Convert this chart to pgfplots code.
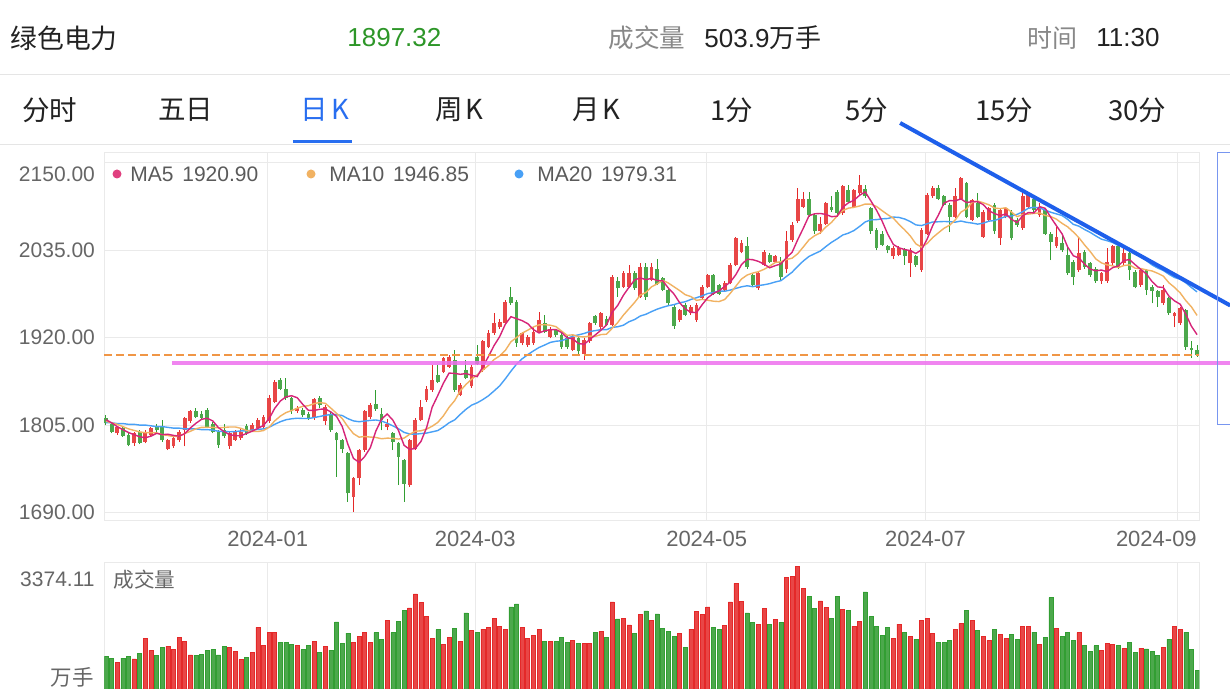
\documentclass[border=0pt]{standalone}
\usepackage{pgfplots}
\pgfplotsset{compat=1.18}
\usepackage{pgfplotstable}
\usepackage{fontspec}
\setmainfont{Liberation Sans}
\newfontfamily\cjk{Noto Sans CJK SC}
\definecolor{gridc}{RGB}{234,234,234}
\definecolor{labc}{RGB}{102,102,102}
\definecolor{legc}{RGB}{90,90,90}
\definecolor{upc}{RGB}{228,40,40}
\definecolor{dnc}{RGB}{50,158,50}
\definecolor{upf}{RGB}{232,70,70}
\definecolor{dnf}{RGB}{76,168,76}
\definecolor{ma5}{RGB}{214,36,120}
\definecolor{ma5d}{RGB}{224,64,127}
\definecolor{ma10}{RGB}{241,178,98}
\definecolor{ma20}{RGB}{72,160,246}
\definecolor{trend}{RGB}{30,95,235}
\definecolor{pinkl}{RGB}{238,112,238}
\definecolor{dashc}{RGB}{240,150,70}
\definecolor{hgreen}{RGB}{45,150,40}
\definecolor{tabblue}{RGB}{40,110,240}
\definecolor{txt}{RGB}{34,34,34}
\definecolor{hgray}{RGB}{136,136,136}
\definecolor{sepc}{RGB}{229,229,229}
\definecolor{brk}{RGB}{120,150,240}
\newcommand{\fs}[1]{\fontsize{#1}{#1}\selectfont}

\pgfplotstableread{
i O H L C V
2 1794 1804 1792 1802 740
5 1781 1796 1778 1794 832
7 1783 1798 1781 1796 1396
8 1792 1803 1790 1801 1063
11 1774 1787 1772 1785 1174
12 1777 1790 1775 1788 1082
13 1785 1798 1783 1796 1414
14 1799 1815 1777 1814 1322
15 1810 1825 1808 1823 943
22 1777 1796 1774 1794 1156
23 1786 1799 1784 1796 1035
24 1788 1800 1786 1796 813
26 1798 1808 1796 1805 1017
27 1801 1814 1799 1812 1701
28 1803 1818 1801 1816 1202
29 1810 1845 1808 1840 1553
30 1836 1864 1834 1862 1553
34 1823 1830 1821 1827 1202
37 1814 1841 1812 1839 1313
39 1810 1831 1805 1829 1174
44 1711 1737 1691 1735 1294
45 1735 1774 1726 1772 1461
46 1772 1825 1770 1823 1571
47 1816 1834 1813 1831 1294
50 1803 1813 1798 1806 1886
54 1726 1787 1724 1785 2237
55 1774 1814 1772 1812 2625
56 1812 1838 1810 1829 2385
57 1838 1856 1836 1853 2006
58 1851 1884 1849 1864 1396
60 1875 1895 1873 1893 1229
61 1882 1897 1880 1895 1414
63 1845 1860 1843 1858 1313
65 1856 1884 1854 1882 1627
67 1877 1917 1875 1915 1655
68 1908 1930 1906 1926 1692
69 1926 1952 1924 1939 1941
70 1934 1944 1932 1941 1719
71 1939 1970 1937 1967 1655
74 1913 1928 1910 1926 1692
75 1910 1923 1908 1921 1387
76 1913 1934 1911 1928 1488
77 1928 1954 1926 1943 1645
79 1921 1934 1919 1932 1322
83 1904 1923 1902 1921 1340
85 1899 1919 1891 1917 1248
86 1915 1941 1913 1939 1257
88 1934 1954 1932 1952 1581
90 1937 2002 1935 2000 2403
92 1987 2008 1985 2005 1941
93 1987 2016 1985 2005 1766
95 1974 2018 1972 2013 2052
97 1996 2018 1994 2013 1886
102 1943 1958 1941 1956 1535
104 1952 1963 1950 1961 1655
105 1943 1965 1941 1963 2135
106 1972 1989 1970 1987 2052
107 1987 2004 1985 2002 2265
110 1983 1994 1981 1992 1747
111 1992 2018 1990 2016 2403
112 2016 2053 2014 2051 2912
113 2033 2049 2031 2044 2413
116 1985 2007 1983 2005 1775
117 2016 2035 2014 2033 2219
119 2020 2029 2018 2027 1914
121 2010 2060 2005 2047 3069
122 2049 2072 2046 2068 3115
123 2073 2117 2071 2103 3374
124 2092 2112 2090 2103 2782
127 2060 2079 2057 2070 2431
128 2070 2099 2068 2097 2246
131 2084 2121 2082 2119 2200
133 2092 2116 2090 2114 1738
134 2110 2134 2108 2121 1867
140 2027 2040 2024 2038 1396
141 2029 2040 2027 2038 1793
143 2018 2038 2000 2035 1451
145 2009 2064 2007 2062 1886
146 2057 2110 2055 2108 1941
147 2106 2119 2104 2117 1544
151 2079 2117 2077 2106 1645
152 2103 2132 2101 2130 1803
154 2075 2103 2073 2101 1895
156 2053 2088 2051 2086 1442
157 2075 2092 2073 2090 1340
159 2051 2090 2042 2088 1498
160 2079 2092 2077 2090 1387
163 2064 2110 2062 2106 1729
164 2092 2112 2090 2108 1729
166 2081 2097 2079 2092 1239
169 2040 2066 2038 2053 1673
173 2009 2051 2007 2031 1553
177 1994 2007 1991 2005 1063
178 1994 2038 1992 2020 1266
179 2018 2042 2016 2040 1220
181 2018 2038 2016 2031 1119
184 1989 2011 1987 2009 1128
188 1965 1989 1963 1983 1146
190 1948 1954 1934 1952 1738
191 1939 1961 1937 1959 1655
}\up

\pgfplotstableread{
i O H L C V
0 1814 1818 1805 1808 897
1 1807 1809 1794 1796 850
3 1801 1803 1789 1791 850
4 1792 1794 1777 1779 906
6 1796 1798 1780 1782 989
9 1803 1806 1796 1798 934
10 1803 1812 1783 1785 1156
16 1823 1827 1814 1816 934
17 1820 1823 1812 1814 952
18 1825 1827 1801 1803 1054
19 1807 1809 1794 1796 1082
20 1796 1798 1775 1779 943
21 1798 1807 1788 1790 1174
25 1804 1807 1792 1794 869
31 1864 1867 1851 1853 1276
32 1853 1867 1838 1840 1294
33 1840 1842 1820 1823 1239
35 1825 1827 1816 1818 1082
36 1820 1822 1812 1814 1202
38 1840 1843 1828 1831 1017
40 1820 1823 1796 1798 1072
41 1794 1796 1737 1785 1849
42 1785 1787 1768 1773 1266
43 1768 1770 1704 1715 1544
48 1833 1851 1824 1826 1553
49 1820 1827 1798 1812 1368
51 1794 1796 1772 1783 1553
52 1781 1783 1726 1763 1867
53 1759 1761 1704 1728 2172
59 1871 1884 1860 1862 1636
62 1891 1904 1849 1851 1664
64 1877 1891 1865 1867 2098
66 1895 1910 1884 1886 1562
72 1974 1987 1963 1965 2265
73 1967 1969 1908 1913 2348
78 1939 1950 1926 1928 1322
80 1930 1932 1921 1923 1313
81 1924 1927 1905 1908 1433
82 1919 1922 1905 1908 1285
84 1919 1921 1899 1902 1248
87 1948 1950 1937 1939 1553
89 1945 1948 1935 1937 1414
91 1994 2000 1974 1985 1932
94 2005 2008 1983 1985 1544
96 2013 2018 1970 1974 2154
98 2011 2024 1989 1991 2071
99 1998 2000 1981 1983 1664
100 1983 1985 1963 1965 1590
101 1961 1963 1932 1935 1461
103 1963 1965 1948 1950 1137
108 2002 2004 1976 1978 1701
109 1989 1991 1976 1978 1655
114 2040 2053 2011 2013 2098
115 2002 2004 1987 1989 1840
118 2029 2031 2018 2020 1784
120 2020 2026 1996 2000 1840
125 2103 2112 2079 2081 2551
126 2081 2083 2057 2060 2219
129 2092 2106 2086 2088 1941
130 2112 2114 2082 2084 2561
132 2114 2121 2097 2099 2163
135 2116 2121 2104 2106 2681
136 2090 2092 2057 2060 1997
137 2062 2064 2035 2038 1729
138 2057 2060 2040 2042 1470
139 2040 2042 2031 2035 1710
142 2035 2038 2016 2027 1553
144 2027 2029 2013 2016 1377
148 2117 2121 2101 2103 1285
149 2106 2108 2093 2095 1276
150 2095 2097 2059 2079 1350
153 2123 2125 2077 2079 2163
155 2097 2110 2077 2079 1627
158 2095 2097 2057 2060 1636
161 2086 2088 2048 2051 1498
162 2075 2077 2066 2068 1377
165 2103 2106 2086 2088 1571
167 2088 2090 2055 2057 1424
168 2057 2059 2022 2046 2524
170 2044 2057 2033 2035 1461
171 2029 2040 2003 2005 1571
172 2020 2022 1989 2000 1350
174 2033 2035 2011 2013 1202
175 2018 2020 2000 2002 1035
176 2011 2013 1992 1994 1192
180 2040 2042 2011 2013 1211
182 2031 2033 1996 2009 1294
183 2007 2009 1985 1987 1017
185 2009 2011 1976 1983 1109
186 1987 1989 1965 1981 1035
187 1981 1983 1961 1974 924
189 1972 1974 1950 1952 1368
192 1956 1958 1904 1908 1571
193 1906 1915 1893 1904 1100
194 1904 1910 1895 1897.32 504
}\down

\pgfplotstableread{
i m5 m10 m20
0 1812 1810 1808
1 1808 1808 1808
2 1803 1806 1807
3 1799 1803 1807
4 1795.2 1800 1806
5 1792.4 1798 1806
6 1789.6 1796 1805
7 1788.4 1795 1805
8 1790.4 1795 1804
9 1794.2 1794.7 1803
10 1792.4 1792.4 1803
11 1793.0 1791.3 1802
12 1791.4 1789.9 1801
13 1790.4 1790.4 1801
14 1793.6 1793.9 1800
15 1801.2 1796.8 1800
16 1807.4 1800.2 1800
17 1812.6 1802.0 1799
18 1814.0 1802.2 1799
19 1810.4 1802.0 1798.4
20 1801.6 1801.4 1796.9
21 1796.4 1801.9 1796.6
22 1792.4 1802.5 1796.2
23 1791.0 1802.5 1796.5
24 1791.0 1800.7 1797.3
25 1794.0 1797.8 1797.3
26 1797.0 1796.7 1798.5
27 1800.6 1796.5 1799.3
28 1804.6 1797.8 1800.0
29 1813.4 1802.2 1802.1
30 1827.0 1810.5 1806.0
31 1836.6 1816.8 1809.4
32 1842.2 1821.4 1812.0
33 1843.6 1824.1 1813.3
34 1841.0 1827.2 1814.0
35 1832.2 1829.6 1813.7
36 1824.4 1830.5 1813.6
37 1824.2 1833.2 1814.9
38 1825.8 1834.7 1816.3
39 1826.2 1833.6 1817.9
40 1822.2 1827.2 1818.9
41 1816.4 1820.4 1818.6
42 1803.2 1813.7 1817.6
43 1780.0 1802.9 1813.5
44 1761.2 1793.7 1810.5
45 1756.0 1789.1 1809.4
46 1763.6 1790.0 1810.3
47 1775.2 1789.2 1811.2
48 1797.4 1788.7 1811.7
49 1812.8 1787.0 1810.3
50 1819.6 1787.8 1807.5
51 1811.6 1787.6 1804.0
52 1798.0 1786.6 1800.2
53 1778.4 1787.9 1795.4
54 1773.0 1792.9 1793.3
55 1774.2 1796.9 1793.0
56 1783.4 1797.5 1793.8
57 1801.4 1799.7 1794.5
58 1828.6 1803.5 1796.1
59 1844.0 1808.5 1797.8
60 1860.2 1817.2 1802.5
61 1873.4 1828.4 1808.0
62 1873.0 1837.2 1811.9
63 1871.8 1850.2 1819.1
64 1872.8 1858.4 1825.7
65 1870.6 1865.4 1831.2
66 1868.8 1871.1 1834.3
67 1881.6 1877.3 1838.5
68 1895.2 1883.5 1843.5
69 1909.6 1891.2 1849.9
70 1921.4 1896.0 1856.6
71 1937.6 1903.2 1865.8
72 1947.6 1914.6 1875.9
73 1945.0 1920.1 1885.2
74 1942.4 1926.0 1892.2
75 1938.4 1929.9 1897.7
76 1930.6 1934.1 1902.6
77 1926.2 1936.9 1907.1
78 1929.2 1937.1 1910.3
79 1930.4 1936.4 1913.8
80 1930.8 1934.6 1915.3
81 1926.8 1928.7 1916.0
82 1919.8 1923.0 1918.8
83 1918.4 1923.8 1922.0
84 1912.4 1921.4 1923.7
85 1911.2 1921.0 1925.5
86 1917.4 1922.1 1928.1
87 1923.6 1921.7 1929.3
88 1929.8 1924.1 1930.6
89 1936.8 1924.6 1930.5
90 1953.4 1932.3 1933.5
91 1962.6 1940.0 1934.4
92 1975.8 1949.7 1936.4
93 1986.4 1958.1 1941.0
94 1996.0 1966.4 1943.9
95 1998.6 1976.0 1948.5
96 1996.4 1979.5 1950.8
97 1998.0 1986.9 1954.3
98 1995.2 1990.8 1957.5
99 1994.8 1995.4 1960.0
100 1985.2 1991.9 1962.1
101 1977.4 1986.9 1963.5
102 1966.0 1982.0 1965.9
103 1957.8 1976.5 1967.3
104 1953.4 1974.1 1970.3
105 1953.0 1969.1 1972.6
106 1963.4 1970.4 1975.0
107 1972.6 1969.3 1978.1
108 1978.2 1968.0 1979.4
109 1981.6 1967.5 1981.5
110 1987.4 1970.2 1981.1
111 1993.2 1978.3 1982.6
112 2003.0 1987.8 1984.9
113 2016.2 1997.2 1986.9
114 2023.2 2002.4 1988.3
115 2022.6 2005.0 1987.1
116 2020.4 2006.8 1988.6
117 2016.8 2009.9 1989.6
118 2012.0 2014.1 1991.1
119 2014.8 2019.0 1993.3
120 2017.0 2019.8 1995.0
121 2025.4 2022.9 2000.6
122 2032.4 2024.6 2006.2
123 2049.0 2030.5 2013.9
124 2064.2 2039.5 2021.0
125 2080.4 2048.7 2026.9
126 2083.0 2054.2 2030.5
127 2083.4 2057.9 2033.9
128 2082.2 2065.6 2039.9
129 2079.2 2071.7 2045.4
130 2079.8 2080.1 2050.0
131 2091.6 2087.3 2055.1
132 2097.4 2090.4 2057.5
133 2100.8 2091.5 2061.0
134 2107.4 2093.3 2066.4
135 2111.8 2095.8 2072.3
136 2100.0 2095.8 2075.0
137 2087.8 2092.6 2075.3
138 2073.4 2087.1 2076.4
139 2056.2 2081.8 2076.8
140 2042.6 2077.2 2078.7
141 2038.2 2069.1 2078.2
142 2036.0 2061.9 2076.2
143 2034.6 2054.0 2072.8
144 2030.8 2043.5 2068.4
145 2035.6 2039.1 2067.5
146 2049.6 2043.9 2069.9
147 2067.6 2051.8 2072.2
148 2081.2 2057.9 2072.5
149 2097.0 2063.9 2072.9
150 2100.4 2068.0 2072.6
151 2100.0 2074.8 2072.0
152 2102.6 2085.1 2073.5
153 2097.8 2089.5 2071.8
154 2099.0 2098.0 2070.8
155 2099.0 2099.7 2069.4
156 2095.0 2097.5 2070.7
157 2087.0 2094.8 2073.3
158 2083.2 2090.5 2074.2
159 2080.6 2089.8 2076.9
160 2082.8 2090.9 2079.5
161 2075.8 2085.4 2080.1
162 2071.4 2079.2 2082.2
163 2080.6 2081.9 2085.7
164 2084.6 2082.6 2090.3
165 2084.2 2083.5 2091.6
166 2092.4 2084.1 2090.8
167 2090.2 2080.8 2087.8
168 2078.2 2079.4 2085.0
169 2067.2 2075.9 2082.9
170 2056.6 2070.4 2080.7
171 2039.2 2065.8 2075.6
172 2027.8 2059.0 2069.1
173 2024.8 2051.5 2066.7
174 2016.8 2042.0 2062.3
175 2010.2 2033.4 2058.5
176 2008.0 2023.6 2053.9
177 2009.0 2018.4 2049.6
178 2006.8 2015.8 2047.6
179 2012.2 2014.5 2045.2
180 2014.4 2012.3 2041.4
181 2021.8 2014.9 2040.4
182 2022.6 2015.8 2037.4
183 2016.0 2011.4 2031.5
184 2009.8 2011.0 2026.5
185 2003.8 2009.1 2021.3
186 1993.8 2007.8 2015.7
187 1986.8 2004.7 2011.6
188 1986.0 2001.0 2008.4
189 1974.6 1992.2 2003.4
190 1968.4 1986.1 1999.2
191 1964.0 1978.9 1996.9
192 1950.8 1968.8 1992.3
193 1935.0 1960.5 1986.0
194 1924.0 1949.3 1980.2
}\ma

\begin{document}
\begin{tikzpicture}[x=0.5pt,y=0.5pt]
\path[use as bounding box] (0,0) rectangle (1230,700);
\fill[white] (0,0) rectangle (1230,700);
\clip (0,0) rectangle (1230,700);

% header
\node[anchor=west,inner sep=0,text=txt,font=\cjk\fs{13.4pt}] at (10,662) {绿色电力};
\node[anchor=west,inner sep=0,text=hgreen,font=\fs{13pt}] at (347,662) {1897.32};
\node[anchor=west,inner sep=0,text=hgray,font=\cjk\fs{12.8pt}] at (608,662) {成交量};
\node[anchor=west,inner sep=0,text=txt,font=\fs{13pt}] at (704,662) {503.9{\cjk 万手}};
\node[anchor=west,inner sep=0,text=hgray,font=\cjk\fs{12.5pt}] at (1027,662) {时间};
\node[anchor=west,inner sep=0,text=txt,font=\fs{13pt}] at (1096,662) {11:30};
\draw[sepc,line width=0.5pt] (0,625) -- (1230,625);
% tabs
\begin{scope}[every node/.style={anchor=west,inner sep=0,text=txt,font=\cjk\fs{13.75pt}}]
\node at (22,590) {分时};
\node at (158,590) {五日};
\node[text=tabblue] at (300,590) {日\kern2pt K};
\node at (435,590) {周\kern1.5pt K};
\node at (572,590) {月\kern1.5pt K};
\node at (710,590) {1分};
\node at (845,590) {5分};
\node at (975,590) {15分};
\node at (1108,590) {30分};
\end{scope}
\fill[tabblue] (293,557) rectangle (352,560);
\draw[sepc,line width=0.5pt] (0,555.5) -- (1230,555.5);

% main price axis
\begin{axis}[
  at={(52.15pt,273.5pt)}, anchor=north west,
  scale only axis, width=547.5pt, height=184pt,
  xmin=-0.3, xmax=194.4, ymin=1678.8, ymax=2163,
  axis line style={draw=gridc, line width=0.5pt},
  major tick length=0pt, tick style={draw=none},
  grid=major, major grid style={draw=gridc, line width=0.5pt},
  xtick={28.75,65.67,106.8,145.7},
  xticklabels={2024-01,2024-03,2024-05,2024-07},
  extra x ticks={190.5}, extra x tick labels={2024-09},
  extra x tick style={grid=major, xticklabel style={xshift=-10.5pt}},
  ytick={1690,1805,1920,2035},
  extra y ticks={2150}, extra y tick labels={2150.00},
  extra y tick style={grid=major, yticklabel style={yshift=-5.8pt}},
  scaled y ticks=false,
  tick label style={text=labc, inner sep=0pt},
  yticklabel style={font=\fs{10.5pt}, xshift=-4.5pt,
     /pgf/number format/fixed, /pgf/number format/fixed zerofill,
     /pgf/number format/precision=2, /pgf/number format/1000 sep={},
     /pgf/number format/assume math mode=true},
  xticklabel style={font=\fs{11pt}, anchor=center, yshift=-9pt},
  clip=false,
]
% wicks
\addplot[draw=none, mark=none, forget plot,
  error bars/.cd, y dir=plus, y explicit, error mark=none,
  error bar style={draw=upc, line width=0.5pt, solid}]
  table[x=i, y=L, y error plus expr=\thisrow{H}-\thisrow{L}] {\up};
\addplot[draw=none, mark=none, forget plot,
  error bars/.cd, y dir=plus, y explicit, error mark=none,
  error bar style={draw=dnc, line width=0.5pt, solid}]
  table[x=i, y=L, y error plus expr=\thisrow{H}-\thisrow{L}] {\down};
% bodies
\addplot[draw=none, mark=none, forget plot,
  error bars/.cd, y dir=plus, y explicit, error mark=none,
  error bar style={draw=upf, line width=1.9pt, solid}]
  table[x=i, y=O, y error plus expr=\thisrow{C}-\thisrow{O}] {\up};
\addplot[draw=none, mark=none, forget plot,
  error bars/.cd, y dir=plus, y explicit, error mark=none,
  error bar style={draw=dnf, line width=1.9pt, solid}]
  table[x=i, y=C, y error plus expr=\thisrow{O}-\thisrow{C}] {\down};
% moving averages
\addplot[ma20, line width=0.7pt, mark=none] table[x=i, y=m20] {\ma};
\addplot[ma10, line width=0.7pt, mark=none] table[x=i, y=m10] {\ma};
\addplot[ma5, line width=0.7pt, mark=none] table[x=i, y=m5] {\ma};
% current price line
\addplot[dashc, line width=1pt, dash pattern=on 4pt off 2pt, mark=none]
  coordinates {(-0.3,1897.32) (194.4,1897.32)};
% hand-drawn annotations
\addplot[pinkl, line width=2.2pt, opacity=0.85, mark=none]
  coordinates {(11.7,1886.6) (199.9,1886.6)};
\addplot[trend, line width=2pt, mark=none]
  coordinates {(141.2,2202.5) (199.9,1962.4)};
\addplot[brk, line width=0.6pt, mark=none]
  coordinates {(203,2163.5) (197.7,2163.5) (197.7,1806.1) (203,1806.1)};
\end{axis}

% legend
\fill[ma5d] (117,526) circle[radius=2.25pt];
\node[anchor=west,inner sep=0,text=legc,font=\fs{10.5pt}] at (130,526) {MA5\hspace{4.4pt}1920.90};
\fill[ma10] (311,526) circle[radius=2.25pt];
\node[anchor=west,inner sep=0,text=legc,font=\fs{10.5pt}] at (329,526) {MA10\hspace{4.4pt}1946.85};
\fill[ma20] (519,526) circle[radius=2.25pt];
\node[anchor=west,inner sep=0,text=legc,font=\fs{10.5pt}] at (537,526) {MA20\hspace{4.4pt}1979.31};

% volume axis
\begin{axis}[
  at={(52.15pt,68.5pt)}, anchor=north west,
  scale only axis, width=547.5pt, height=63pt,
  xmin=-0.3, xmax=194.4, ymin=0, ymax=3477,
  axis line style={draw=gridc, line width=0.5pt},
  major tick length=0pt, tick style={draw=none},
  xtick={28.75,65.67,106.8,145.7,190.5}, xticklabels={},
  ytick=\empty,
  xmajorgrids, major grid style={draw=gridc, line width=0.5pt},
]
\addplot[ybar, bar width=2pt, bar shift=0pt, fill=upf, draw=upc, line width=0.3pt]
  table[x=i, y=V] {\up};
\addplot[ybar, bar width=2pt, bar shift=0pt, fill=dnf, draw=dnc, line width=0.3pt]
  table[x=i, y=V] {\down};
\end{axis}
\node[anchor=east,inner sep=0,text=labc,font=\fs{10.5pt}] at (95,121) {3374.11};
\node[anchor=west,inner sep=0,text=labc,font=\cjk\fs{10.3pt}] at (113,120) {成交量};
\node[anchor=east,inner sep=0,text=labc,font=\cjk\fs{10.75pt}] at (94,23) {万手};
\end{tikzpicture}
\end{document}
